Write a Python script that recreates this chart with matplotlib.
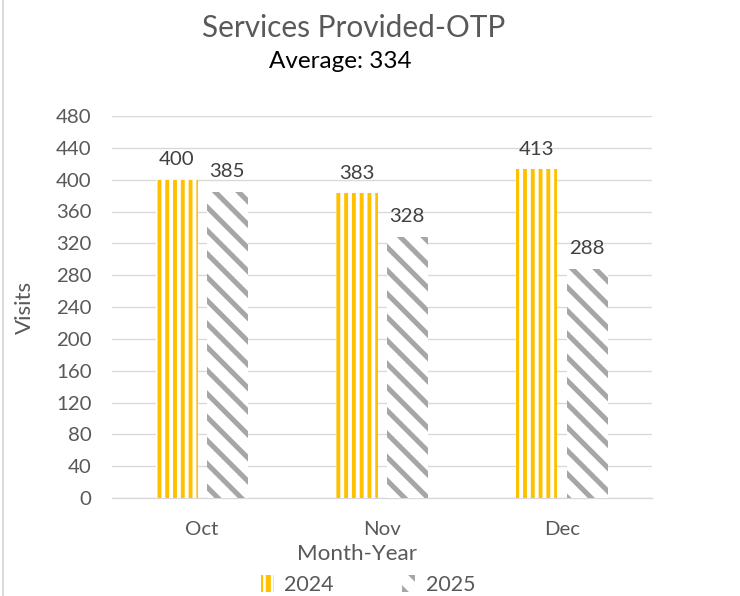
import matplotlib
matplotlib.use("Agg")
import matplotlib.pyplot as plt
from matplotlib.lines import Line2D
import numpy as np

plt.rcParams['font.family'] = ['Lato', 'DejaVu Sans']

months = ['Oct', 'Nov', 'Dec']
visits_2024 = [400, 383, 413]
visits_2025 = [385, 328, 288]
series_names = ['2024', '2025']
yticks = list(range(0, 481, 40))
title = 'Services Provided-OTP'
subtitle = 'Average: 334'

yellow = '#FFC000'
gray = '#A6A6A6'
text_col = '#595959'

fig = plt.figure(figsize=(740 / 140, 596 / 140), dpi=140)
ax = fig.add_axes([112 / 740, 1 - 498 / 596, 540 / 740, 382 / 596])

x = np.arange(len(months))
w = 0.23
off = 0.14

plt.rcParams['hatch.linewidth'] = 2.0
b1 = ax.bar(x - off, visits_2024, w, color='white', edgecolor=yellow,
            hatch='|||', linewidth=0, label=series_names[0], zorder=3)
for p in b1:
    if hasattr(p, 'set_hatch_linewidth'):
        p.set_hatch_linewidth(2.0)

plt.rcParams['hatch.linewidth'] = 2.6
b2 = ax.bar(x + off, visits_2025, w, color='white', edgecolor=gray,
            hatch='\\\\', linewidth=0, label=series_names[1], zorder=3)
for p in b2:
    if hasattr(p, 'set_hatch_linewidth'):
        p.set_hatch_linewidth(2.6)

for bars, vals in ((b1, visits_2024), (b2, visits_2025)):
    for p, v in zip(bars, vals):
        ax.annotate(str(v), (p.get_x() + p.get_width() / 2, v),
                    xytext=(0, 6), textcoords='offset points',
                    ha='center', va='bottom', fontsize=10.5, color='#404040')

ax.set_xlim(-0.5, len(months) - 0.5)
ax.set_ylim(0, 480)
ax.set_yticks(yticks)
ax.set_xticks(x)
ax.set_xticklabels(months)
ax.tick_params(axis='both', length=0, labelsize=10.5, colors=text_col)
ax.tick_params(axis='x', pad=12)
ax.tick_params(axis='y', pad=10.5)
ax.grid(axis='y', color='#D9D9D9', linewidth=0.7, zorder=0)
for s in ['top', 'right', 'left']:
    ax.spines[s].set_visible(False)
ax.spines['bottom'].set_color('#D9D9D9')
ax.spines['bottom'].set_linewidth(0.7)

ax.set_ylabel('Visits', fontsize=11.5, color=text_col)
ax.yaxis.set_label_coords((35 - 112) / 540, 0.5)
ax.set_xlabel('Month-Year', fontsize=11.5, color=text_col, va='center')
ax.xaxis.set_label_coords((357 - 112) / 540, (498 - 554) / 382)

fig.text(354 / 740, 1 - 28 / 596, title, ha='center', va='center',
         fontsize=15.3, color=text_col)
fig.text(340 / 740, 1 - 61 / 596, subtitle, ha='center', va='center',
         fontsize=12.5, color='black')

leg = fig.legend(handles=[b1, b2], loc='center', bbox_to_anchor=(368 / 740, 1 - 585 / 596),
                 ncol=2, frameon=False, fontsize=11, handlelength=0.6,
                 handleheight=0.8, handletextpad=0.5, columnspacing=3.2)
for t in leg.get_texts():
    t.set_color(text_col)

fig.add_artist(Line2D([3 / 740, 3 / 740], [0, 1], transform=fig.transFigure,
                      color='#D9D9D9', linewidth=1.0))

fig.savefig('out.png', dpi=140)
